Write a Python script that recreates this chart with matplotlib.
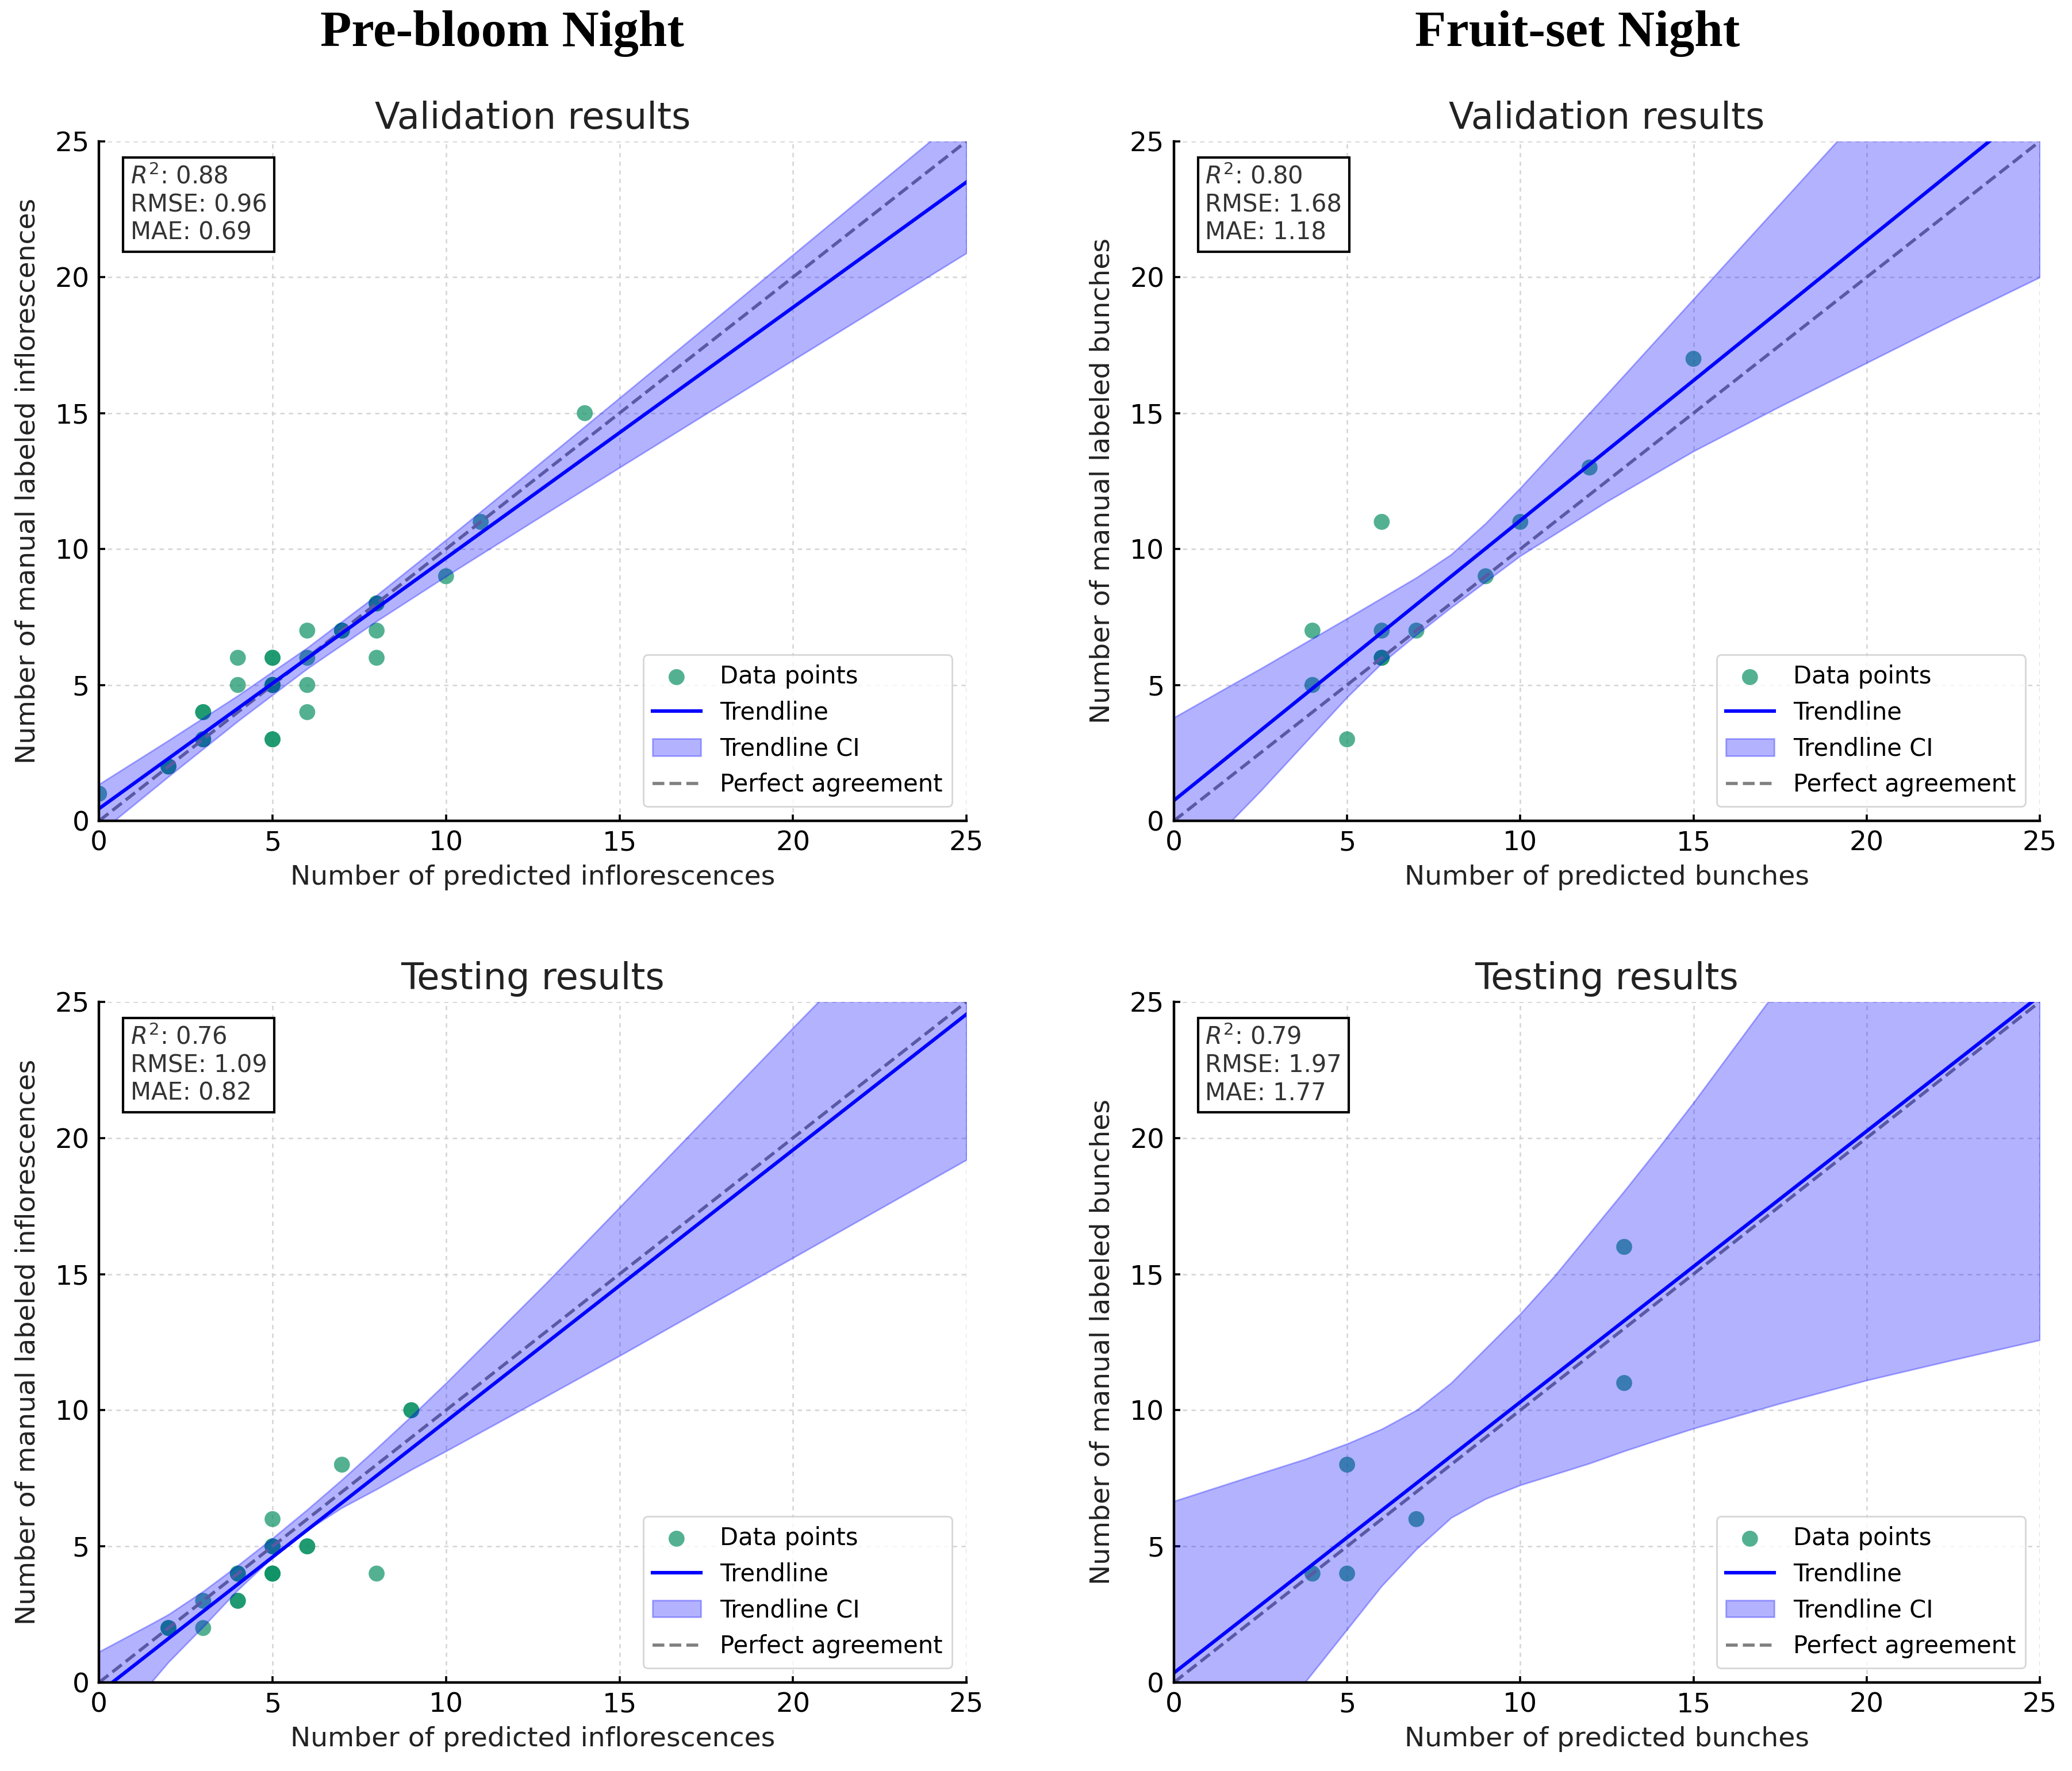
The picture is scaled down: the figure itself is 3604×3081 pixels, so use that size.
import numpy as np
import matplotlib
matplotlib.use("Agg")
import matplotlib.pyplot as plt

# --- values ---
# Pre-bloom validation (inflorescences)
a_pred = [0, 2, 2, 3, 3, 3, 3, 4, 4, 5, 5, 5, 5, 5, 5, 5, 6, 6, 6, 6, 7, 7, 8, 8, 8, 8, 10, 11, 14]
a_true = [1, 2, 2, 3, 3, 4, 4, 5, 6, 3, 3, 5, 5, 5, 6, 6, 4, 5, 6, 7, 7, 7, 6, 7, 8, 8, 9, 11, 15]
a_band_x = [0, 2, 4, 6, 8, 10, 12.5, 15, 17.5, 20, 22.5, 25]
a_band_lo = [-0.45, 1.63, 3.67, 5.60, 7.35, 9.00, 11.01, 13.00, 14.98, 16.95, 18.92, 20.89]
a_band_hi = [1.35, 2.96, 4.61, 6.37, 8.30, 10.34, 12.94, 15.56, 18.19, 20.83, 23.47, 26.11]

# Fruit-set validation (bunches)
b_pred = [4, 4, 5, 6, 6, 6, 6, 7, 9, 10, 12, 15]
b_true = [7, 5, 3, 11, 7, 6, 6, 7, 9, 11, 13, 17]
b_band_x = [0, 1.66, 2.5, 5, 6, 7, 8, 9, 10, 12.5, 15, 17.5, 20, 22.5, 25]
b_band_lo = [-2.2, 0, 1.1, 4.55, 5.8, 6.85, 7.85, 8.8, 9.75, 11.75, 13.6, 15.25, 16.85, 18.45, 20.0]
b_band_hi = [3.8, 5.0, 5.6, 7.45, 8.2, 8.95, 9.8, 10.95, 12.25, 15.7, 19.2, 22.7, 26.2, 29.7, 33.2]

# Pre-bloom testing (inflorescences)
c_pred = [2, 2, 3, 3, 4, 4, 4, 4, 5, 5, 5, 5, 5, 5, 6, 6, 7, 8, 9, 9]
c_true = [2, 2, 3, 2, 4, 4, 3, 3, 6, 5, 5, 4, 4, 4, 5, 5, 8, 4, 10, 10]
c_band_x = [0, 1.5, 2, 3, 4, 5, 6, 7, 8, 9, 10, 12.87, 15, 17.5, 20, 22.5, 25]
c_band_lo = [-1.9, 0, 0.75, 2.05, 3.4, 4.6, 5.6, 6.42, 7.1, 7.82, 8.5, 10.5, 12.0, 13.8, 15.6, 17.4, 19.2]
c_band_hi = [1.13, 2.15, 2.5, 3.35, 4.3, 5.3, 6.35, 7.45, 8.6, 9.78, 11.0, 14.65, 17.45, 20.75, 24.05, 27.3, 30.5]

# Fruit-set testing (bunches)
d_pred = [4, 5, 5, 7, 13, 13]
d_true = [4, 8, 4, 6, 16, 11]
d_band_x = [0, 2, 3.78, 5, 6, 7, 8, 9, 10, 11, 12, 13, 14, 15, 17.5, 20, 22.5, 25]
d_band_lo = [-5.9, -2.7, 0, 1.95, 3.55, 4.9, 6.05, 6.75, 7.25, 7.65, 8.05, 8.5, 8.92, 9.33, 10.25, 11.1, 11.85, 12.58]
d_band_hi = [6.66, 7.48, 8.2, 8.77, 9.31, 10.0, 11.0, 12.27, 13.54, 14.95, 16.5, 18.05, 19.65, 21.3, 25.6, 30.0, 34.4, 38.8]

# trendline intercept / slope per panel (A, B, C, D)
trend_intercept = [0.45, 0.75, -0.38, 0.35]
trend_slope = [0.922, 1.03, 0.997, 0.995]

metrics_r2 = ["0.88", "0.80", "0.76", "0.79"]
metrics_rmse = ["0.96", "1.68", "1.09", "1.97"]
metrics_mae = ["0.69", "1.18", "0.82", "1.77"]

titles = ["Validation results", "Validation results", "Testing results", "Testing results"]
xlabels = ["Number of predicted inflorescences", "Number of predicted bunches",
           "Number of predicted inflorescences", "Number of predicted bunches"]
ylabels = ["Number of manual labeled inflorescences", "Number of manual labeled bunches",
           "Number of manual labeled inflorescences", "Number of manual labeled bunches"]
column_titles = ["Pre-bloom Night", "Fruit-set Night"]

panels = [
    (a_pred, a_true, a_band_x, a_band_lo, a_band_hi),
    (b_pred, b_true, b_band_x, b_band_lo, b_band_hi),
    (c_pred, c_true, c_band_x, c_band_lo, c_band_hi),
    (d_pred, d_true, d_band_x, d_band_lo, d_band_hi),
]

# --- figure ---
fig = plt.figure(figsize=(18.025, 15.405), dpi=200, facecolor="white")
rects = [
    [0.0478, 0.5365, 0.4185, 0.3837],
    [0.5664, 0.5365, 0.4178, 0.3837],
    [0.0478, 0.0500, 0.4185, 0.3843],
    [0.5664, 0.0500, 0.4178, 0.3843],
]

point_color = "#0A9164"

for i, (px, py, bx, blo, bhi) in enumerate(panels):
    ax = fig.add_axes(rects[i])
    ax.set_axisbelow(True)
    ax.grid(True, linestyle=(0, (3, 3)), linewidth=0.9, color="#d4d4d4")

    sc = ax.scatter(px, py, s=100, color=point_color, alpha=0.7,
                    edgecolors="none", zorder=2)

    # perfect agreement (y = x) sits under the CI band
    pa, = ax.plot([0, 25], [0, 25], linestyle="--", color="gray",
                  linewidth=2.0, zorder=2.1)
    xs = np.array(bx)
    tl, = ax.plot(xs, trend_intercept[i] + trend_slope[i] * xs, color="blue",
                  linewidth=2.2, zorder=2.2)
    band = ax.fill_between(bx, blo, bhi, color="blue", alpha=0.3,
                           linewidth=1, zorder=2.5)

    ax.set_xlim(0, 25)
    ax.set_ylim(0, 25)
    ax.set_xticks([0, 5, 10, 15, 20, 25])
    ax.set_yticks([0, 5, 10, 15, 20, 25])
    ax.tick_params(direction="in", length=4, width=1.3, labelsize=17, pad=6)
    for side in ("top", "right"):
        ax.spines[side].set_visible(False)
    for side in ("left", "bottom"):
        ax.spines[side].set_linewidth(1.6)
        ax.spines[side].set_color("black")

    ax.set_title(titles[i], fontsize=23, pad=8, color="#222222")
    ax.set_xlabel(xlabels[i], fontsize=17, labelpad=5, color="#222222")
    ax.set_ylabel(ylabels[i], fontsize=17, labelpad=9, color="#222222")

    ax.text(0.036, 0.966,
            "$R^2$: " + metrics_r2[i] + "\nRMSE: " + metrics_rmse[i] + "\nMAE: " + metrics_mae[i],
            transform=ax.transAxes, ha="left", va="top", fontsize=15, color="#333333",
            bbox=dict(boxstyle="square,pad=0.3", facecolor="white", edgecolor="black",
                      linewidth=1.5), zorder=5)

    leg = ax.legend([sc, tl, band, pa],
                    ["Data points", "Trendline", "Trendline CI", "Perfect agreement"],
                    loc="lower right", fontsize=15, scatterpoints=1,
                    borderaxespad=0.6, framealpha=0.8)
    leg.set_zorder(6)

for j, name in enumerate(column_titles):
    fig.text([0.2424, 0.761][j], 0.981, name, ha="center", va="center",
             fontsize=32, fontweight="bold", family="Liberation Serif")

fig.savefig("out.png", dpi=200)
